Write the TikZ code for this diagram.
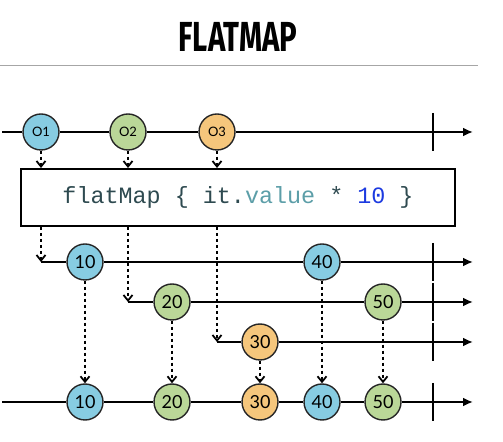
\documentclass[tikz,border=0pt]{standalone}
\usepackage{fontspec}
\setsansfont{Lato}
\setmonofont{Liberation Mono}
\newfontfamily\titlefont{Fira Sans}
\usetikzlibrary{arrows.meta, positioning}
\definecolor{marbleblue}{RGB}{135, 204, 226}
\definecolor{marblegreen}{RGB}{186, 215, 152}
\definecolor{marbleorange}{RGB}{245, 198, 124}
\definecolor{codedark}{RGB}{46, 74, 80}
\definecolor{codeteal}{RGB}{92, 158, 168}
\definecolor{codeblue}{RGB}{28, 58, 224}

\tikzset{
  marble/.style={circle, draw=black!85, line width=0.7pt, minimum size=18pt, inner sep=0pt, font=\sffamily\fontsize{9}{9}\selectfont},
  srcmarble/.style={marble, font=\sffamily\fontsize{6.5}{6.5}\selectfont},
  timeline/.style={line width=1pt, -{Latex[length=5pt, width=4.5pt]}},
  emit/.style={line width=0.9pt, dash pattern=on 1.6pt off 1.4pt, -{Straight Barb[length=2.8pt, width=4.5pt]}},
  tick/.style={line width=1pt},
}

\begin{document}
\begin{tikzpicture}[x=0.5pt, y=-0.5pt]
  \useasboundingbox (0,0) rectangle (503,442);

  % title
  \node (title) at (238,37) {\titlefont\bfseries\fontsize{21}{21}\selectfont\scalebox{0.7}[1]{FLATMAP}};
  \draw[black!35, line width=0.5pt] (0,66) coordinate (sepl) -- (478,66) coordinate (sepr);

  % source stream
  \coordinate (in0) at (2,132);
  \coordinate (in1) at (473,132);
  \coordinate (tin) at (433,132);
  \node[srcmarble, fill=marbleblue] (src1) at (41,132) {O1};
  \node[srcmarble, fill=marblegreen] (src2) at (128,132) {O2};
  \node[srcmarble, fill=marbleorange] (src3) at (217,132) {O3};
  \draw[timeline] (in0) -- (src1) -- (src2) -- (src3) -- (in1);
  \draw[tick] ([yshift=9.5pt]tin) -- ([yshift=-9.5pt]tin);

  % operator
  \node[draw, line width=1pt, minimum width=217pt, minimum height=28.5pt, font=\ttfamily\fontsize{11.7}{14}\selectfont] (map) at (238,197.5) {\textcolor{codedark}{flatMap\ \{\ it.}\textcolor{codeteal}{value}\textcolor{codedark}{\ *\ }\textcolor{codeblue}{10}\textcolor{codedark}{\ \}}};
  \draw[emit] (src1) -- (src1 |- map.north);
  \draw[emit] (src2) -- (src2 |- map.north);
  \draw[emit] (src3) -- (src3 |- map.north);

  % inner streams
  \coordinate (a0) at (41,262);
  \coordinate (a1) at (473,262);
  \coordinate (ta) at (433,262);
  \node[marble, fill=marbleblue] (m10) at (85,262) {10};
  \node[marble, fill=marbleblue] (m40) at (322,262) {40};
  \draw[emit] (map.south -| a0) -- (a0);
  \draw[timeline] (a0) -- (m10) -- (m40) -- (a1);
  \draw[tick] ([yshift=9.5pt]ta) -- ([yshift=-9.5pt]ta);

  \coordinate (b0) at (128,302);
  \coordinate (b1) at (473,302);
  \coordinate (tb) at (433,302);
  \node[marble, fill=marblegreen] (m20) at (172,302) {20};
  \node[marble, fill=marblegreen] (m50) at (383,302) {50};
  \draw[emit] (map.south -| b0) -- (b0);
  \draw[timeline] (b0) -- (m20) -- (m50) -- (b1);
  \draw[tick] ([yshift=9.5pt]tb) -- ([yshift=-9.5pt]tb);

  \coordinate (c0) at (217,342);
  \coordinate (c1) at (473,342);
  \coordinate (tc) at (433,342);
  \node[marble, fill=marbleorange] (m30) at (260,342) {30};
  \draw[emit] (map.south -| c0) -- (c0);
  \draw[timeline] (c0) -- (m30) -- (c1);
  \draw[tick] ([yshift=9.5pt]tc) -- ([yshift=-9.5pt]tc);

  % merged output
  \coordinate (out0) at (2,402);
  \coordinate (out1) at (473,402);
  \coordinate (tout) at (433,402);
  \node[marble, fill=marbleblue] (out10) at (85,402) {10};
  \node[marble, fill=marblegreen] (out20) at (172,402) {20};
  \node[marble, fill=marbleorange] (out30) at (260,402) {30};
  \node[marble, fill=marbleblue] (out40) at (322,402) {40};
  \node[marble, fill=marblegreen] (out50) at (383,402) {50};
  \draw[timeline] (out0) -- (out10) -- (out20) -- (out30) -- (out40) -- (out50) -- (out1);
  \draw[tick] ([yshift=9.5pt]tout) -- ([yshift=-9.5pt]tout);

  \draw[emit] (m10) -- (out10);
  \draw[emit] (m20) -- (out20);
  \draw[emit] (m30) -- (out30);
  \draw[emit] (m40) -- (out40);
  \draw[emit] (m50) -- (out50);
\end{tikzpicture}
\end{document}
